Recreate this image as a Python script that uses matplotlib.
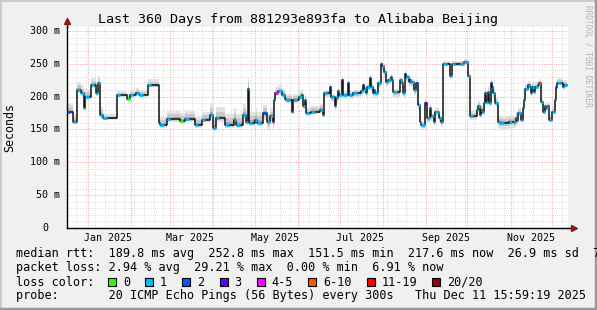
import datetime as dt

import matplotlib
import numpy as np

matplotlib.use('Agg')
import matplotlib.pyplot as plt
from matplotlib.lines import Line2D
from matplotlib.patches import Rectangle

MONO = 'DejaVu Sans Mono'
W, H = 597, 310

start = dt.datetime(2024, 12, 16, 15, 59, 19)
span_days = 360

# median rtt (ms), value holds from each day until the next one
days = [0, 4, 7, 10, 12, 13, 17, 21, 22, 24, 26, 36, 43, 45, 50, 52, 58, 66, 67, 72,
        81, 85, 92, 97, 103, 105, 107, 114, 120, 122, 127, 129, 130, 131, 135, 137, 141, 144, 146, 148,
        149, 150, 152, 155, 157, 158, 162, 163, 167, 169, 170, 171, 172, 176, 182, 184, 185, 189, 190, 193,
        194, 195, 196, 198, 199, 202, 203, 206, 212, 213, 214, 215, 216, 218, 219, 220, 221, 222, 224, 226,
        227, 228, 230, 231, 233, 234, 235, 240, 241, 242, 243, 244, 246, 247, 248, 250, 251, 253, 254, 255,
        258, 259, 261, 262, 264, 265, 268, 269, 271, 276, 277, 283, 286, 289, 290, 295, 296, 297, 298, 299,
        300, 301, 302, 303, 304, 305, 306, 307, 308, 310, 312, 318, 322, 323, 324, 325, 327, 328, 329, 330,
        332, 333, 334, 335, 336, 337, 339, 340, 341, 343, 344, 345, 346, 347, 349, 351, 352, 353, 357, 358]
median = [177, 162, 210, 205, 182, 200, 217, 205, 220, 172, 167, 202, 197, 203, 206, 203, 217, 160, 157, 166,
          163, 166, 157, 165, 172, 152, 167, 157, 165, 157, 172, 162, 212, 160, 165, 160, 175, 162, 170, 162,
          195, 205, 208, 203, 197, 195, 177, 195, 200, 202, 185, 195, 175, 177, 180, 172, 205, 215, 199, 185,
          198, 208, 203, 226, 203, 221, 203, 205, 208, 217, 212, 205, 215, 228, 215, 205, 210, 205, 220, 250,
          247, 237, 222, 225, 230, 225, 207, 225, 220, 205, 235, 230, 222, 225, 222, 210, 220, 187, 162, 157,
          190, 167, 182, 170, 162, 177, 167, 162, 250, 232, 249, 250, 252.8, 232, 170, 180, 185, 172, 180, 177,
          190, 205, 192, 207, 190, 220, 215, 205, 190, 162, 160, 162, 161, 167, 165, 175, 165, 182, 195, 212,
          217, 215, 205, 215, 207, 215, 217, 220, 192, 177, 185, 182, 185, 165, 177, 195, 215, 221, 215, 217.6]

# loss class per sample: '1' everywhere except these
loss_days = [0, 43, 81, 141, 148, 150, 189, 198, 202, 213, 218, 226, 243, 251, 258, 305, 324, 340, 352]
loss_codes = ['2', '0', '0', '2', '4-5', '4-5', '2', '3', '2', '2', '2', '2', '2', '2', '3', '2', '3', '6-10', '2']

# smoke spread around the median (ms) per period
smoke_edges = [0, 25, 58, 66, 100, 140, 150, 185, 270, 290, 310, 325]
smoke_hi = [12, 7, 10, 12, 17, 12, 9, 5, 5, 9, 10, 7]
smoke_lo = [4, 3, 3, 4, 5, 11, 4, 7, 3, 5, 9, 4]

loss_labels = ['0', '1', '2', '3', '4-5', '6-10', '11-19', '20/20']
loss_colors = ['#26ff00', '#00b8ff', '#0059ff', '#5e00ff', '#ff00ff', '#ff5500', '#ff0000', '#a00000']

y_ticks = [0, 50, 100, 150, 200, 250, 300]
y_labels = ['0', '50 m', '100 m', '150 m', '200 m', '250 m', '300 m']
x_label_months = [(2025, 1), (2025, 3), (2025, 5), (2025, 7), (2025, 9), (2025, 11)]

title = 'Last 360 Days from 881293e893fa to Alibaba Beijing'
legend_rows = [
    'median rtt:  189.8 ms avg  252.8 ms max  151.5 ms min  217.6 ms now  26.9 ms sd  7.1 am/s',
    'packet loss: 2.94 % avg  29.21 % max  0.00 % min  6.91 % now',
    'loss color:',
    'probe:       20 ICMP Echo Pings (56 Bytes) every 300s   Thu Dec 11 15:59:19 2025',
]


def day_of(t):
    return (t - start).total_seconds() / 86400.0


fig = plt.figure(figsize=(W / 100, H / 100), dpi=100, facecolor='#f0f0f0')
# frame shading
fig.add_artist(Line2D([0, 1], [1 - 0.5 / H, 1 - 0.5 / H], color='#cbcbcb', lw=1.5))
fig.add_artist(Line2D([0.5 / W, 0.5 / W], [0, 1], color='#cbcbcb', lw=1.5))
fig.add_artist(Line2D([0, 1], [1.5 / H, 1.5 / H], color='#999999', lw=2.5))
fig.add_artist(Line2D([1 - 1.5 / W, 1 - 1.5 / W], [0, 1], color='#999999', lw=2.5))

ax = fig.add_axes([67 / W, (H - 228) / H, 501 / W, 201 / H])
ax.set_facecolor('white')
ax.set_xlim(0, 360.7)
ax.set_ylim(0, 306)

# grid
month_starts = []
m = dt.datetime(2025, 1, 1)
while m < start + dt.timedelta(days=span_days):
    month_starts.append(day_of(m))
    m = dt.datetime(m.year + (m.month == 12), m.month % 12 + 1, 1)
mondays = []
d = dt.datetime(2024, 12, 23)
while d < start + dt.timedelta(days=span_days):
    mondays.append(day_of(d))
    d += dt.timedelta(days=7)
ax.set_xticks(month_starts)
ax.set_xticks(mondays, minor=True)
ax.set_yticks(y_ticks)
ax.set_yticks(range(0, 301, 10), minor=True)
ax.grid(which='minor', color='#d4d4d4', ls=(0, (1, 1.5)), lw=0.6)
ax.grid(which='major', color='#f2a0a0', ls=(0, (1, 1.5)), lw=0.7)
ax.tick_params(which='both', length=0, labelbottom=False, labelleft=False)
ax.set_axisbelow(True)

for s in ('top', 'right'):
    ax.spines[s].set_visible(False)
for s in ('left', 'bottom'):
    ax.spines[s].set_color('#000000')
    ax.spines[s].set_linewidth(1)
ax.plot([0, 0], [1, 1.03], color='black', lw=1, transform=ax.transAxes, clip_on=False)
ax.plot([1, 1.008], [0, 0], color='black', lw=1, transform=ax.transAxes, clip_on=False)
ax.plot(0, 1.03, marker='^', ms=4.5, color='#8b1a1a', transform=ax.transAxes, clip_on=False)
ax.plot(1.012, 0, marker='>', ms=4.5, color='#8b1a1a', transform=ax.transAxes, clip_on=False)

# smoke
x = np.array(days + [span_days], dtype=float)
med = np.array(median + [median[-1]], dtype=float)
idx = np.searchsorted(smoke_edges, x, side='right') - 1
hi = np.array(smoke_hi)[idx]
lo = np.array(smoke_lo)[idx]
ax.fill_between(x, med - lo, med + hi, step='post', color='#e2e2e2', lw=0)
ax.fill_between(x, med - lo * 0.6, med + hi * 0.6, step='post', color='#c8c8c8', lw=0)
ax.fill_between(x, med - lo * 0.25, med + hi * 0.25, step='post', color='#a8a8a8', lw=0)

# median line, with loss-coloured dabs after each change
code_of = dict(zip(loss_days, loss_codes))
color_of = dict(zip(loss_labels, loss_colors))
ends = days[1:] + [span_days]
ax.step(x, med, where='post', color='#111111', lw=1.1, zorder=3)
for d0, d1, v in zip(days, ends, median):
    ax.hlines(v, d0, min(d1, d0 + 2.5), colors=color_of[code_of.get(d0, '1')], lw=2.0, zorder=4)

# axis labels
for v, lab in zip(y_ticks, y_labels):
    off = -7 / 501 if v else -19 / 501
    ax.text(off, v, lab, transform=ax.get_yaxis_transform(), ha='right', va='center',
            fontsize=7.2, family=MONO)
for yr, mo in x_label_months:
    ax.text(day_of(dt.datetime(yr, mo, 15, 12)), -10 / 201, dt.date(yr, mo, 1).strftime('%b %Y'),
            transform=ax.get_xaxis_transform(), ha='center', va='center', fontsize=7.2, family=MONO)

fig.text(297.5 / W, 1 - 19 / H, title, ha='center', va='center', fontsize=9.6, family=MONO)
fig.text(10 / W, 1 - 128 / H, 'Seconds', rotation=90, ha='center', va='center', fontsize=8.4, family=MONO)
fig.text(588 / W, 1 - 5 / H, 'RRDTOOL / TOBI OETIKER', rotation=270, ha='center', va='top',
         fontsize=5.6, family=MONO, color='#b4b4b4')

# legend
cw = 7.07
row_y = [254, 268, 282, 296]
for txt, yy in zip(legend_rows, row_y):
    fig.text(16 / W, 1 - yy / H, txt, ha='left', va='center', fontsize=8.45, family=MONO)
cur = 16 + 13 * cw
for lab, col in zip(loss_labels, loss_colors):
    fig.add_artist(Rectangle((cur / W, 1 - 286 / H), 8 / W, 8 / H, facecolor=col,
                             edgecolor='black', lw=0.8, transform=fig.transFigure))
    fig.text((cur + 15) / W, 1 - 282 / H, lab, ha='left', va='center', fontsize=8.45, family=MONO)
    cur += 16 + (len(lab) + 2) * cw

fig.savefig('out.png', dpi=100, facecolor=fig.get_facecolor())
